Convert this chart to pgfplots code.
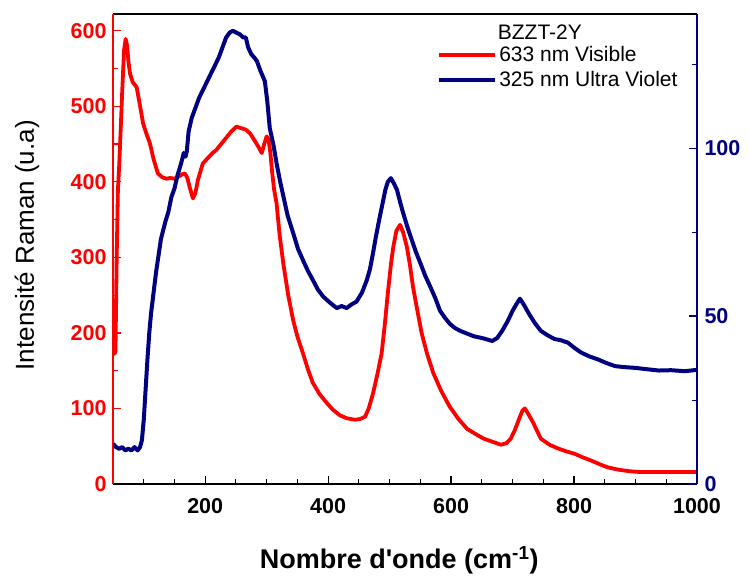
\documentclass[border=0pt]{standalone}
\usepackage{pgfplots}
\pgfplotsset{compat=1.18}
\usepackage{fontspec}
\setmainfont{Liberation Sans}
\definecolor{redc}{RGB}{255,0,0}
\definecolor{navyc}{RGB}{0,0,128}

\pgfplotstableread{
w v
50 190
52 172
54 175
56 300
58 390
60 420
62 459
65 520
68 574
70.6 589
73 580
75 560
77.7 543
82 532
88.5 525
93 505
99 477
105 462
110 451
116 430
123 411
130 406
137 404
143 405
150 404
157 407
163 410
167 411
171 405
175 392
180 378
184 385
188 402
196 424
205 432
212 438
218 442
226 450
235 459
243 467
251 473
258 471
266 469
273 464
280 455
286 447
292 438
296 450
300 460
303 456
306 438
309 412
312 390
316 372
321 330
327 292
335 250
343 217
350 195
359 173
367 152
375 134
386 119
398 107
408 98
419 91
430 87
444 85
452 86
460 89
466 100
473 120
480 145
487 173
492 210
497 252
502 290
506 314
511 335
517 343
522 333
528 314
533 290
538 261
545 230
552 200
561 172
571 147
584 123
598 102
612 86
626 73
640 66
653 60
667 56
681 52
690 54
697 60
704 72
711 87
716 97
720 100
726 92
733 82
740 70
746 60
760 52
774 47
788 43
801 40
815 35
828 31
842 26
855 22
872 19
889 17
905 16
922 16
945 16
965 16
985 16
1000 16
}\redtab

\pgfplotstableread{
w v
50 12
55 11
60 10.5
65 11
70 10
75 10.5
80 10
85 11
90 10
94 11
97 13
100 19
103 28
106 37
109 45
112 51
116 57
120 63
124 68
128 73
135 78
140 81
145 85.5
150 88
155 92
160 95
163 97
165 98.6
168 97.5
170 99
173 105
178 109
184 112
190 115
198 118
206 121
214 124
222 127
228 130
234 133
240 134.5
245 135
250 134.5
256 134
262 133
266 133
270 130
275 128
280 127
284 126
290 123
297 120
301 114
305 106
311 101
316 95.6
322 90
328 85
334 80
343 74.8
351 70
359 66.7
367 63.5
375 60.8
383 58
392 55.8
403 54
414 52.4
422 53
430 52.4
438 53.5
446 54.3
455 57
463 60.8
468 64
473 68.8
478 74
484 79.6
489 84
493 87.6
497 90
502 91.1
507 89.5
512 87.6
517 84
522 80.7
529 76.5
536 72.7
543 69
550 65.8
558 62
566 58.8
574 55.5
582 51.6
590 49.5
598 47.7
606 46.5
615 45.6
626 44.8
637 44
652 43.4
667 42.6
675 43.5
683 45.6
692 48.5
700 51.6
706 53.5
712 55.2
718 53.5
727 50.6
736 48
746 45.6
757 44.3
768 43.2
779 42.8
790 42.1
801 40.5
812 39.1
825 38
839 37.1
853 36
867 35.1
883 34.8
899 34.6
918 34.2
938 33.8
958 33.9
980 33.6
1000 34
}\bluetab

\begin{document}
\begin{tikzpicture}
\path[use as bounding box] (-113pt,-92pt) rectangle (636pt,484pt);
\pgfplotsset{
  common/.style={
    scale only axis, width=584pt, height=470pt,
    xmin=50, xmax=1000,
    /pgf/number format/assume math mode=true,
    /pgf/number format/1000 sep={},
    tick align=inside,
    major tick length=8pt, minor tick length=5pt,
    every tick/.append style={line width=1.3pt},
    every minor tick/.append style={line width=1.1pt},
    ticklabel style={font=\fontsize{21.5}{24}\selectfont\bfseries},
  }
}
\begin{axis}[common,
  separate axis lines,
  ymin=0, ymax=622,
  xtick={200,400,600,800,1000},
  minor xtick={100,150,250,300,350,450,500,550,650,700,750,850,900,950},
  ytick={0,100,...,600},
  minor ytick={50,150,...,550},
  xtick pos=lower, ytick pos=left,
  x axis line style={black, line width=1.8pt},
  y axis line style={redc, line width=1.8pt},
  ytick style={redc},
  xtick style={black},
  yticklabel style={redc, xshift=-3pt},
  xticklabel style={black, yshift=-11pt},
  xlabel={Nombre d\textquotesingle onde (cm\textsuperscript{-1})},
  xlabel style={font=\fontsize{27}{30}\selectfont\bfseries, at={([yshift=-76pt]axis description cs:0.49,0)}, anchor=center},
  ylabel={Intensité Raman (u.a)},
  ylabel style={font=\fontsize{26}{30}\selectfont, at={([xshift=-86pt]axis description cs:0,0.508)}, anchor=center},
]
\addplot[redc, line width=3.8pt, line join=round] table[x=w,y=v] {\redtab};
\end{axis}
\begin{axis}[common,
  axis x line=none,
  axis y line*=right,
  ymin=0, ymax=140,
  ytick={0,50,100},
  minor ytick={25,75,125},
  y axis line style={navyc, line width=1.8pt},
  ytick style={navyc},
  yticklabel style={navyc, xshift=4pt},
  legend style={at={(axis description cs:0.555,0.935)}, anchor=north west, draw=none, fill=none,
    font=\fontsize{21}{24}\selectfont, row sep=4pt, inner sep=0pt},
  legend cell align=left,
  legend image code/.code={\draw[#1] (0pt,0pt) -- (56pt,0pt);},
]
\addlegendimage{redc, line width=3.8pt}
\addlegendentry{633 nm Visible}
\addplot[navyc, line width=4pt, line join=round] table[x=w,y=v] {\bluetab};
\addlegendentry{325 nm Ultra Violet}
\node[font=\fontsize{21}{24}\selectfont] at (axis description cs:0.731,0.962) {BZZT-2Y};
\end{axis}
\end{tikzpicture}
\end{document}
